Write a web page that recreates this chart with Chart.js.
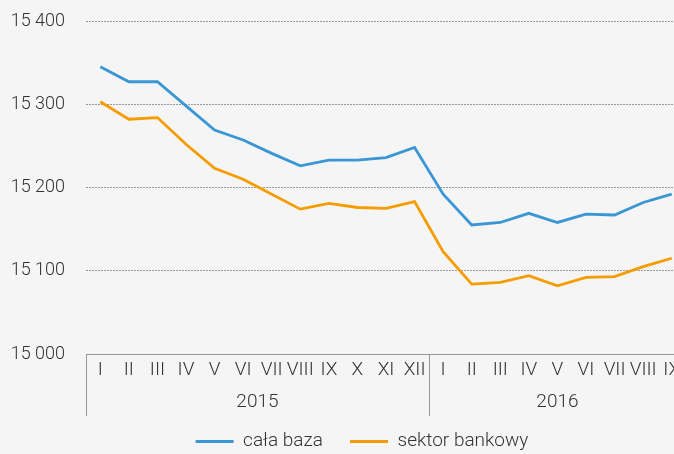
<!DOCTYPE html>
<html><head><meta charset="utf-8">
<script src="https://cdn.jsdelivr.net/npm/chart.js@4.4.1/dist/chart.umd.min.js"></script>
<style>
html,body{margin:0;padding:0;background:#f5f5f5;overflow:hidden;width:674px;height:454px;}
#wrap{width:724px;height:461px;}
</style></head>
<body><div id="wrap"><canvas id="c" width="724" height="461"></canvas></div>
<script>
const months = ['I','II','III','IV','V','VI','VII','VIII','IX','X','XI','XII','I','II','III','IV','V','VI','VII','VIII','IX'];
const years = ['2015','2016'];
const yearCounts = [12, 9];
const calaBaza = [15345,15327,15327,15298,15269,15257,15241,15226,15233,15233,15236,15248,15192,15155,15158,15169,15158,15168,15167,15182,15192];
const sektorBankowy = [15303,15282,15284,15252,15223,15210,15192,15174,15181,15176,15175,15183,15123,15084,15086,15094,15082,15092,15093,15105,15115];
const yTicks = [15000,15100,15200,15300,15400];

const FONT = "'Roboto',sans-serif";
const TXT = '#333';
const FS = 19;
const fmt = v => String(v).replace(/\B(?=(\d{3})+(?!\d))/g,' ');

const groupPlugin = {
  id:'groups',
  afterDraw(chart){
    const ctx = chart.ctx, x = chart.scales.x, y = chart.scales.y, area = chart.chartArea;
    const band = x.getPixelForValue(1) - x.getPixelForValue(0);
    ctx.save();
    // y tick labels
    ctx.fillStyle = TXT;
    ctx.font = "300 18px " + FONT;
    ctx.textAlign = 'right'; ctx.textBaseline = 'middle';
    yTicks.forEach(v => ctx.fillText(fmt(v), area.left - 21, y.getPixelForValue(v)));
    // year groups
    ctx.strokeStyle = '#999'; ctx.lineWidth = 1;
    ctx.font = "300 " + FS + "px " + FONT;
    ctx.textAlign = 'center';
    let start = 0;
    const top = area.bottom, bot = area.bottom + 62;
    for (let g = 0; g < years.length; g++) {
      const l = x.getPixelForValue(start) - band/2;
      const r = x.getPixelForValue(start + yearCounts[g] - 1) + band/2;
      ctx.beginPath();
      ctx.moveTo(Math.round(l)+0.5, top); ctx.lineTo(Math.round(l)+0.5, bot);
      ctx.moveTo(Math.round(r)+0.5, top); ctx.lineTo(Math.round(r)+0.5, bot);
      ctx.stroke();
      ctx.fillText(years[g], (l+r)/2, area.bottom + 48);
      start += yearCounts[g];
    }
    ctx.restore();
  }
};

new Chart(document.getElementById('c'), {
  type:'line',
  data:{
    labels: months,
    datasets:[
      {label:'cała baza', data:calaBaza, borderColor:'#3a96d4', backgroundColor:'#3a96d4', borderWidth:2.8, pointRadius:0, tension:0},
      {label:'sektor bankowy', data:sektorBankowy, borderColor:'#f59c00', backgroundColor:'#f59c00', borderWidth:2.8, pointRadius:0, tension:0}
    ]
  },
  options:{
    responsive:false, animation:false,
    layout:{padding:{left:38,right:38,top:21,bottom:0}},
    plugins:{
      tooltip:{enabled:false},
      legend:{
        position:'bottom',
        labels:{
          font:{family:FONT,size:FS,weight:'300'}, color:TXT, boxWidth:38, boxHeight:3, padding:27,
          generateLabels(chart){
            return Chart.defaults.plugins.legend.labels.generateLabels(chart).map(l => Object.assign(l,{lineWidth:0}));
          }
        }
      }
    },
    scales:{
      x:{
        type:'category', offset:true,
        grid:{display:false, drawTicks:false},
        border:{display:true, color:'#999'},
        ticks:{font:{family:FONT,size:FS,weight:'300'}, color:TXT, padding:5, autoSkip:false, maxRotation:0},
        afterFit(s){ s.height = 51; }
      },
      y:{
        min:15000, max:15400,
        afterBuildTicks(s){ s.ticks = yTicks.map(v => ({value:v})); },
        grid:{color:'#999', drawTicks:false, lineWidth:1},
        border:{display:false, dash:[2,1]},
        ticks:{display:false},
        afterFit(s){ s.width = 48; }
      }
    }
  },
  plugins:[groupPlugin]
});
</script></body></html>
